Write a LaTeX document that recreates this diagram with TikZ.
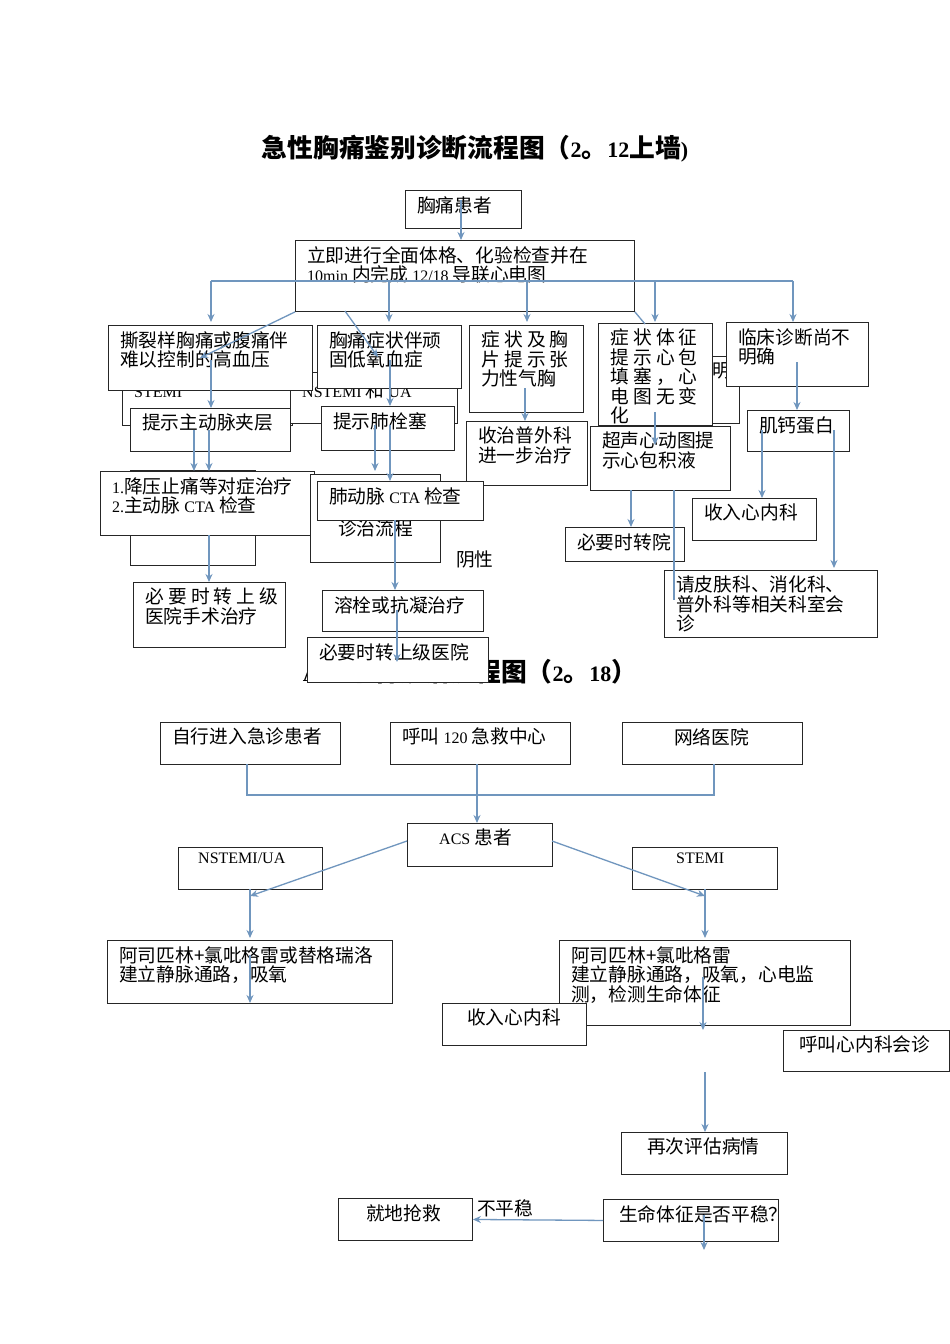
\documentclass[tikz,border=0pt]{standalone}
\usepackage{fontspec}
\setmainfont{Liberation Serif}
\newfontfamily\cjk[Scale=1.17]{Noto Sans CJK SC}
\usetikzlibrary{arrows.meta}
\definecolor{arrowc}{RGB}{112,150,190}
\newcommand\bx[6]{\node[bx, minimum width={(#4-#2)*1pt}, minimum height={(#5-#3)*1pt}] (#1) at (#2,-#3) {};
\node[txt] (#1t) at (#2+12,-#3-6) {#6};}
\tikzset{
bx/.style={draw=black!85, fill=white, line width=0.9pt, anchor=north west, inner sep=0},
txt/.style={anchor=north west, inner sep=0, align=left, font=\fontsize{16}{19.5}\selectfont},
ar/.style={draw=arrowc, line width=1.3pt, -{Stealth[length=8pt,width=7pt]}},
ln/.style={draw=arrowc, line width=1.3pt}}
\begin{document}
\begin{tikzpicture}[x=1pt,y=1pt]
\useasboundingbox[fill=white] (0,0) rectangle (950,-1344);
\node[font=\bfseries\fontsize{22}{26}\selectfont] (t1) at (475,-149) {{\cjk\bfseries 急性胸痛鉴别诊断流程图（}2{\cjk\bfseries 。}12{\cjk\bfseries 上墙}{)}};
\bx{A}{405}{190}{521}{228}{\cjk 胸痛患者}
\bx{B}{295}{240}{634}{311}{{\cjk 立即进行全面体格、化验检查并在}\\10min {\cjk 内完成} 12/18 {\cjk 导联心电图}}
% hidden boxes
\bx{h1}{122}{372}{292}{425}{\\STEMI}
\bx{h2}{290}{372}{457}{423}{\\NSTEMI {\cjk 和} UA}
\bx{h3}{700}{356}{739}{423}{{\cjk 明}}
\bx{C1}{108}{325}{312}{390}{\cjk 撕裂样胸痛或腹痛伴\\\cjk 难以控制的高血压}
\bx{C2}{317}{325}{461}{388}{\cjk 胸痛症状伴顽\\\cjk 固低氧血症}
\bx{C3}{469}{325}{583}{412}{\cjk 症 状 及 胸\\\cjk 片 提 示 张\\\cjk 力性气胸}
\bx{C4}{598}{323}{712}{425}{\cjk 症 状 体 征\\\cjk 提 示 心 包\\\cjk 填 塞 ， 心\\\cjk 电 图 无 变\\\cjk 化}
\bx{C5}{726}{322}{868}{386}{\cjk 临床诊断尚不\\\cjk 明确}
\bx{D1}{130}{408}{290}{451}{\cjk 提示主动脉夹层}
\bx{D2}{321}{406}{454}{450}{\cjk 提示肺栓塞}
\bx{D3}{466}{421}{587}{485}{\cjk 收治普外科\\\cjk 进一步治疗}
\bx{D4}{590}{426}{730}{490}{\cjk 超声心动图提\\\cjk 示心包积液}
\bx{D5}{747}{410}{849}{451}{\cjk 肌钙蛋白}
\bx{h4}{130}{470}{255}{565}{}
\bx{E1}{100}{471}{314}{535}{1.{\cjk 降压止痛等对症治疗}\\2.{\cjk 主动脉} CTA {\cjk 检查}}
\bx{h5}{310}{474}{440}{562}{}
\node[txt] (h5t) at (338,-520) {\cjk 诊治流程};
\bx{E2}{317}{481}{483}{520}{{\cjk 肺动脉} CTA {\cjk 检查}}
\node[txt] (neg) at (456,-551) {\cjk 阴性};
\bx{F}{692}{498}{816}{540}{\cjk 收入心内科}
\bx{G}{565}{527}{684}{561}{\cjk 必要时转院}
\bx{H}{664}{570}{877}{637}{\cjk 请皮肤科、消化科、\\\cjk 普外科等相关科室会\\\cjk 诊}
\bx{I1}{133}{582}{285}{647}{\cjk 必 要 时 转 上 级\\\cjk 医院手术治疗}
\bx{I2}{322}{590}{483}{631}{\cjk 溶栓或抗凝治疗}
\node[font=\bfseries\fontsize{22}{26}\selectfont] (t2) at (470,-672) {ACS{\cjk\bfseries 患者诊治流程图（}2{\cjk\bfseries 。}18{\cjk\bfseries ）}};
\bx{I3}{307}{637}{488}{682}{\cjk 必要时转上级医院}
% top arrows
\draw[ar] (461,-200) -- (B.north -| 461,0);
\draw[ln] (211,-281) -- (793,-281);
\foreach \x in {211,389,527,655,793} \draw[ar] (\x,-281) -- (\x,-322);
\draw[ar] (B.south west) -- (200,-358);
\draw[ar] (345,-311) -- (378,-357);
\draw[ln] (B.south east) -- (645,-324);
\draw[ar] (211,-360) -- (211,-408);
\draw[ar] (194,-430) -- (194,-471);
\draw[ar] (209,-430) -- (209,-471);
\draw[ar] (209,-535) -- (I1.north -| 209,0);
\draw[ar] (390,-360) -- (390,-406);
\draw[ar] (375,-425) -- (375,-471);
\draw[ar] (390,-425) -- (390,-481);
\draw[ar] (395,-520) -- (395,-590);
\draw[ar] (397,-610) -- (397,-662);
\draw[ar] (525,-388) -- (D3.north -| 525,0);
\draw[ar] (655,-412) -- (655,-445);
\draw[ar] (631,-490) -- (G.north -| 631,0);
\draw[ln] (674,-490) -- (674,-600);
\draw[ar] (797,-362) -- (D5.north -| 797,0);
\draw[ar] (762,-430) -- (F.north -| 762,0);
\draw[ar] (834,-430) -- (834,-568);
% bottom part
\bx{J1}{160}{722}{340}{764}{\cjk 自行进入急诊患者}
\bx{J2}{390}{722}{570}{764}{{\cjk 呼叫} 120 {\cjk 急救中心}}
\bx{J3}{622}{722}{802}{764}{\hspace{40pt}\cjk 网络医院}
\bx{K}{407}{823}{552}{866}{\hspace{20pt}ACS {\cjk 患者}}
\bx{L1}{178}{847}{322}{889}{\hspace{8pt}NSTEMI/UA}
\bx{L2}{632}{847}{777}{889}{\hspace{32pt}STEMI}
\bx{M1}{107}{940}{392}{1003}{\cjk 阿司匹林+氯吡格雷或替格瑞洛\\\cjk 建立静脉通路，吸氧}
\bx{M2}{559}{940}{850}{1025}{\cjk 阿司匹林+氯吡格雷\\\cjk 建立静脉通路，吸氧，心电监\\\cjk 测，检测生命体征}
\bx{N}{442}{1003}{586}{1045}{\hspace{13pt}\cjk 收入心内科}
\bx{O}{783}{1030}{949}{1071}{\hspace{4pt}\cjk 呼叫心内科会诊}
\bx{P}{621}{1132}{787}{1174}{\hspace{14pt}\cjk 再次评估病情}
\bx{Q}{603}{1199}{778}{1241}{\hspace{4pt}\cjk 生命体征是否平稳？}
\bx{R}{338}{1198}{472}{1240}{\hspace{16pt}\cjk 就地抢救}
\draw[ln] (247,-764) -- (247,-795) -- (714,-795) -- (714,-764);
\draw[ar] (477,-764) -- (K.north -| 477,0);
\draw[ar] (407,-841) -- (250,-896);
\draw[ar] (552,-841) -- (705,-896);
\draw[ar] (250,-889) -- (250,-938);
\draw[ar] (705,-889) -- (705,-938);
\draw[ar] (250,-955) -- (250,-1003);
\draw[ar] (703,-977) -- (703,-1030);
\draw[ar] (705,-1072) -- (P.north -| 705,0);
\draw[ar] (704,-1215) -- (704,-1250);
\draw[ar] (Q.west) -- (R.east);
\node[txt] (ns) at (477,-1199) {\cjk 不平稳};
\end{tikzpicture}
\end{document}
